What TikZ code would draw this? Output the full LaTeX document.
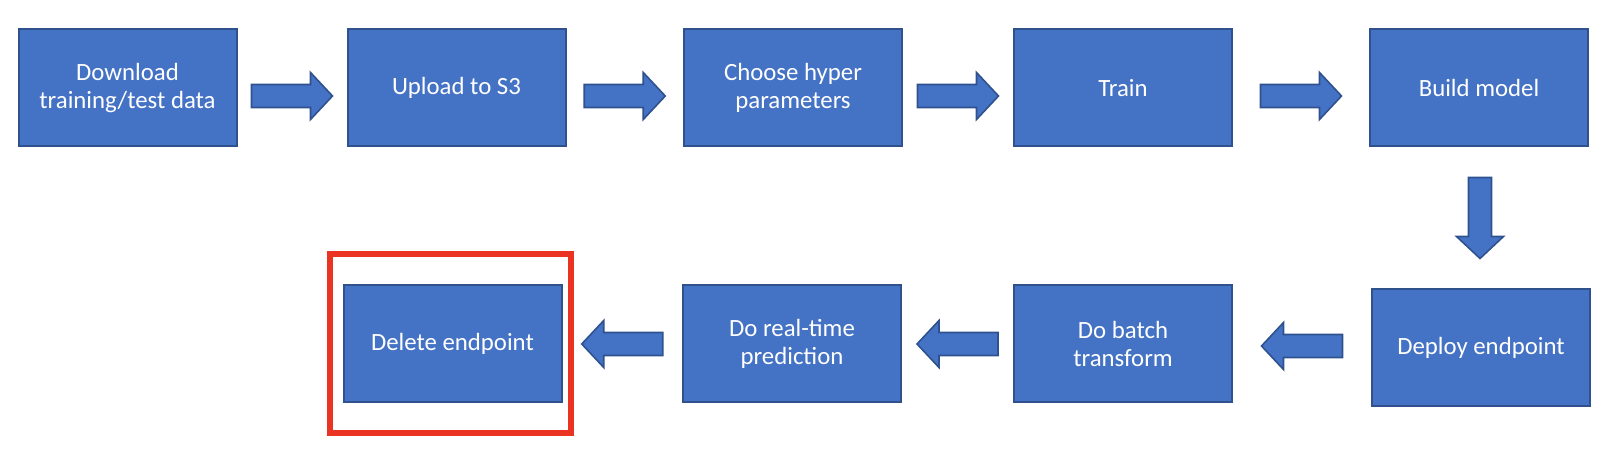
\documentclass[tikz,border=0pt]{standalone}
\usepackage{fontspec}
\setmainfont{Carlito}
\usetikzlibrary{calc}

\begin{document}
\begin{tikzpicture}[x=0.5pt,y=-0.5pt]
    \definecolor{boxblue}{HTML}{4472C4}
    \definecolor{boxedge}{HTML}{2F528F}
    \definecolor{markred}{HTML}{EA3323}
    \tikzset{
      stepbox/.style={draw=boxedge,fill=boxblue,line width=1pt,text=white,
        minimum width=109pt,minimum height=58.5pt,align=center,
        font=\fontsize{12.4}{14}\selectfont},
      blockarr/.pic={\draw[draw=boxedge,fill=boxblue,line width=0.8pt]
        (-40.5,-11.5) -- (18.5,-11.5) -- (18.5,-23.5) -- (40.5,0)
        -- (18.5,23.5) -- (18.5,11.5) -- (-40.5,11.5) -- cycle;}
    }
    \useasboundingbox (0,0) rectangle (1622,458);
    % top row, left to right
    \foreach \n/\x/\t in {b1/127.5/{Download\\training/test data},
        b2/456.5/{Upload to S3}, b3/793/{Choose hyper\\parameters},
        b4/1123/{Train}, b5/1479/{Build model}}
      \node[stepbox] (\n) at (\x,88) {\t};
    % bottom row, right to left
    \node[stepbox] (b6) at (1481,348) {Deploy endpoint};
    \foreach \n/\x/\t in {b7/1123/{Do batch\\transform},
        b8/792/{Do real-time\\prediction}, b9/452.5/{Delete endpoint}}
      \node[stepbox] (\n) at (\x,344) {\t};
    \foreach \a/\b in {b1/b2,b2/b3,b3/b4,b4/b5}
      \pic[yshift=-4pt] at ($(\a.east)!0.5!(\b.west)$) {blockarr};
    \pic[rotate=-90] at ($(b5.south)!0.5!(b6.north)$) {blockarr};
    \foreach \a/\b in {b6/b7,b7/b8,b8/b9}
      \pic[rotate=180] at ($(\a.west)!0.5!(\b.east)$) {blockarr};
    % highlight
    \draw[markred,line width=3pt] ([shift={(-12.5,-30.5)}]b9.north west)
      rectangle ([shift={(8,30)}]b9.south east);
\end{tikzpicture}
\end{document}
